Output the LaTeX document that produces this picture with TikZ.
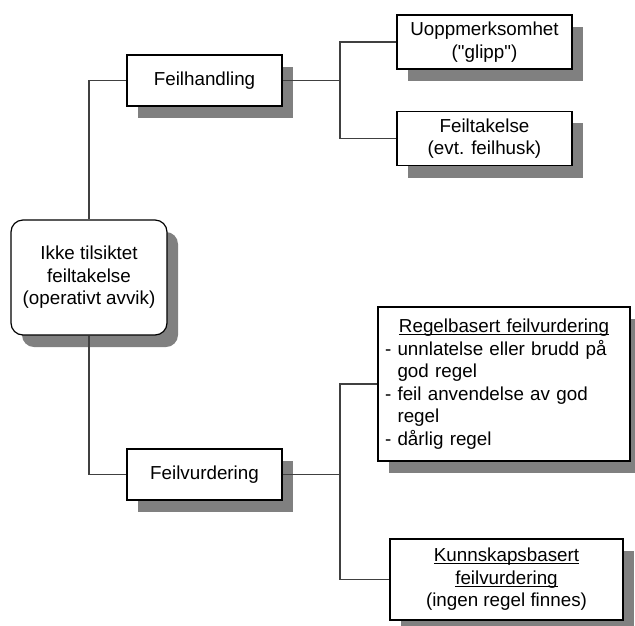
\documentclass[tikz,border=0pt]{standalone}
\usepackage{fontspec}
\setmainfont{Liberation Sans}
\usetikzlibrary{positioning}
\usetikzlibrary{shadows}
\newcommand{\uln}[1]{\leavevmode\setbox0\hbox{#1}\rlap{\rule[-2.6pt]{\wd0}{1pt}}\box0}
\colorlet{myshade}{black!50}
\colorlet{myconn}{black!75}
\tikzstyle{mybox}=[draw=black,fill=white,line width=1.2pt,inner sep=7pt,align=center,
                   drop shadow={shadow xshift=11pt,shadow yshift=-12pt,fill=myshade,opacity=1}]
\tikzstyle{myroundbox}=[mybox,rounded corners=12pt]
\tikzstyle{myline}=[myconn,line width=1.2pt]

\begin{document}
\begin{tikzpicture}[x=1pt,y=-1pt,font=\fontsize{18.8}{22.5}\selectfont]
  \useasboundingbox (0,0) rectangle (635,625);
  \def\sx{340} % x of the two right-hand splits

  % root
  \node[myroundbox,minimum width=156,minimum height=115] (root) at (89,277.5) {
    Ikke tilsiktet\\
    feiltakelse\\
    (operativt avvik)
  };

  % feilhandling branch
  \node[mybox,minimum width=155,minimum height=51] (fh) at (204.5,80.5) {Feilhandling};
  \node[mybox,minimum width=175,minimum height=50] (uopp) at (484.5,42) {
    Uoppmerksomhet\\
    (\textquotedbl glipp\textquotedbl)
  };
  \node[mybox,minimum width=175,minimum height=51] (feilt) at (484.5,138.5) {
    Feiltakelse\\
    (evt. feilhusk)
  };

  % feilvurdering branch
  \node[mybox,minimum width=155,minimum height=51] (fv) at (204.5,474.5) {Feilvurdering};
  \node[mybox,text width=238,align=left,minimum width=252,minimum height=154] (regel) at (504,384) {
    \makebox[238pt]{\uln{Regelbasert feilvurdering}}\\
    - unnlatelse eller brudd på\\
    \phantom{- }god regel\\
    - feil anvendelse av god\\
    \phantom{- }regel\\
    - dårlig regel
  };
  \node[mybox,minimum width=233,minimum height=81] (kunn) at (506.5,579.5) {
    \uln{Kunnskapsbasert}\\
    \uln{feilvurdering}\\
    (ingen regel finnes)
  };

  % CONNECTORS
  \coordinate (fhsplit) at (\sx,80.5);
  \coordinate (fvsplit) at (\sx,474.5);
  \draw[myline] (root) |- (fh);
  \draw[myline] (root) |- (fv);
  \draw[myline] (fh) -- (fhsplit);
  \draw[myline] (fhsplit) |- (uopp);
  \draw[myline] (fhsplit) |- (feilt);
  \draw[myline] (fv) -- (fvsplit);
  \draw[myline] (fvsplit) |- (regel);
  \draw[myline] (fvsplit) |- (kunn);
\end{tikzpicture}
\end{document}
